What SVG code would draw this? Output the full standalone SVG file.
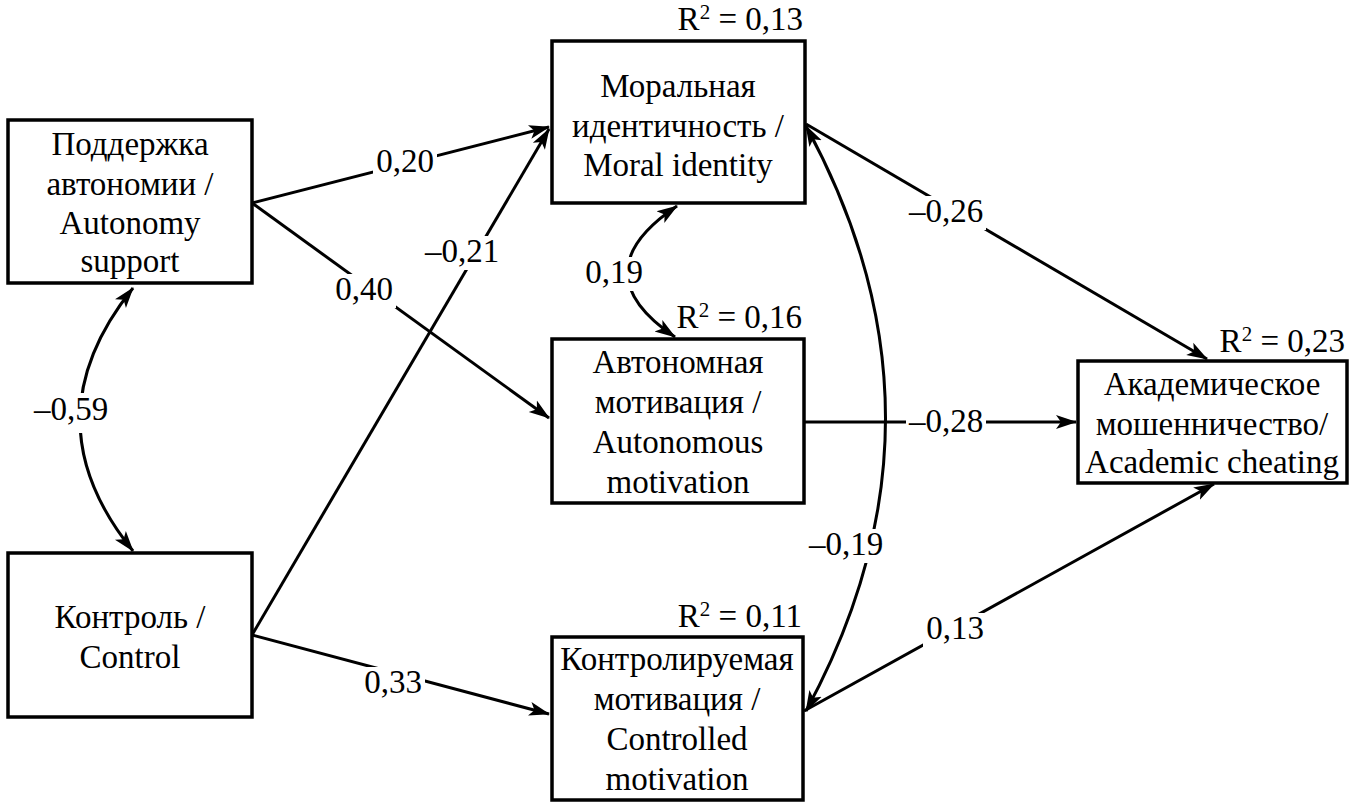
<svg xmlns="http://www.w3.org/2000/svg" width="1357" height="810" viewBox="0 0 1357 810">
<style>
text{font-family:"Liberation Serif",serif;font-size:33px;fill:#000}
.n text{text-anchor:middle}
.box{fill:#fff;stroke:#000;stroke-width:3.5}
.e{fill:none;stroke:#000;stroke-width:3}
.lb{fill:#fff}
.lbl{text-anchor:middle}
.r2{text-anchor:end}
.sup{font-size:21px}
</style>
<defs>
<marker id="ah" markerUnits="userSpaceOnUse" markerWidth="24" markerHeight="16" refX="20" refY="7" orient="auto-start-reverse" viewBox="0 0 24 14">
<path d="M0,0 L21,7 L0,14 L5,7 z" fill="#000"/>
</marker>
</defs>
<g id="connectors">
<line class="e" x1="252" y1="203" x2="549" y2="127" marker-end="url(#ah)"/>
<line class="e" x1="252" y1="203" x2="549" y2="418" marker-end="url(#ah)"/>
<line class="e" x1="252" y1="635" x2="549" y2="129" marker-end="url(#ah)"/>
<line class="e" x1="252" y1="635" x2="549" y2="714" marker-end="url(#ah)"/>
<line class="e" x1="806" y1="124" x2="1207" y2="359" marker-end="url(#ah)"/>
<line class="e" x1="804" y1="422" x2="1076" y2="422" marker-end="url(#ah)"/>
<line class="e" x1="804" y1="711" x2="1214" y2="484" marker-end="url(#ah)"/>
<path class="e" d="M133,288 Q27,420 133,551" marker-start="url(#ah)" marker-end="url(#ah)"/>
<path class="e" d="M677,206 Q579,272 675,337" marker-start="url(#ah)" marker-end="url(#ah)"/>
<path class="e" d="M806,126 Q965,418 806,711" marker-start="url(#ah)" marker-end="url(#ah)"/>
<rect class="lb" x="373" y="146" width="64" height="34"/>
<rect class="lb" x="332" y="274" width="64" height="34"/>
<rect class="lb" x="422" y="236" width="80" height="34"/>
<rect class="lb" x="361" y="667" width="64" height="34"/>
<rect class="lb" x="906" y="196" width="80" height="34"/>
<rect class="lb" x="906" y="406" width="80" height="34"/>
<rect class="lb" x="923" y="613" width="64" height="34"/>
<rect class="lb" x="806" y="529" width="80" height="34"/>
<rect class="lb" x="582" y="257" width="64" height="34"/>
<rect class="lb" x="31" y="393" width="80" height="40"/>
<text class="lbl" x="405" y="172">0,20</text>
<text class="lbl" x="364" y="300">0,40</text>
<text class="lbl" x="462" y="262">–0,21</text>
<text class="lbl" x="393" y="693">0,33</text>
<text class="lbl" x="946" y="222">–0,26</text>
<text class="lbl" x="946" y="432">–0,28</text>
<text class="lbl" x="955" y="639">0,13</text>
<text class="lbl" x="846" y="555">–0,19</text>
<text class="lbl" x="614" y="283">0,19</text>
<text class="lbl" x="71" y="420">–0,59</text>
</g>
<g id="autonomy-support" class="n">
<rect class="box" x="8" y="120" width="244" height="163"/>
<text x="130" y="155">Поддержка</text>
<text x="130" y="195">автономии /</text>
<text x="130" y="234">Autonomy</text>
<text x="130" y="272">support</text>
</g>
<g id="control" class="n">
<rect class="box" x="8" y="553" width="244" height="164"/>
<text x="130" y="628">Контроль /</text>
<text x="130" y="668">Control</text>
</g>
<g id="moral-identity" class="n">
<rect class="box" x="552" y="41" width="253" height="162"/>
<text x="678" y="97">Моральная</text>
<text x="678" y="137">идентичность /</text>
<text x="678" y="176">Moral identity</text>
<text class="r2" x="803" y="30" style="text-anchor:end">R<tspan class="sup" dy="-11">2</tspan><tspan dy="11"> = 0,13</tspan></text>
</g>
<g id="autonomous-motivation" class="n">
<rect class="box" x="552" y="339" width="252" height="164"/>
<text x="678" y="373">Автономная</text>
<text x="678" y="413">мотивация /</text>
<text x="678" y="453">Autonomous</text>
<text x="678" y="493">motivation</text>
<text class="r2" x="802" y="328" style="text-anchor:end">R<tspan class="sup" dy="-11">2</tspan><tspan dy="11"> = 0,16</tspan></text>
</g>
<g id="controlled-motivation" class="n">
<rect class="box" x="552" y="637" width="251" height="163"/>
<text x="677" y="670">Контролируемая</text>
<text x="677" y="710">мотивация /</text>
<text x="677" y="750">Controlled</text>
<text x="677" y="790">motivation</text>
<text class="r2" x="802" y="627" style="text-anchor:end">R<tspan class="sup" dy="-11">2</tspan><tspan dy="11"> = 0,11</tspan></text>
</g>
<g id="academic-cheating" class="n">
<rect class="box" x="1078" y="361" width="269" height="122"/>
<text x="1212" y="395">Академическое</text>
<text x="1212" y="435">мошенничество/</text>
<text x="1212" y="473">Academic cheating</text>
<text class="r2" x="1345" y="352" style="text-anchor:end">R<tspan class="sup" dy="-11">2</tspan><tspan dy="11"> = 0,23</tspan></text>
</g>
</svg>
